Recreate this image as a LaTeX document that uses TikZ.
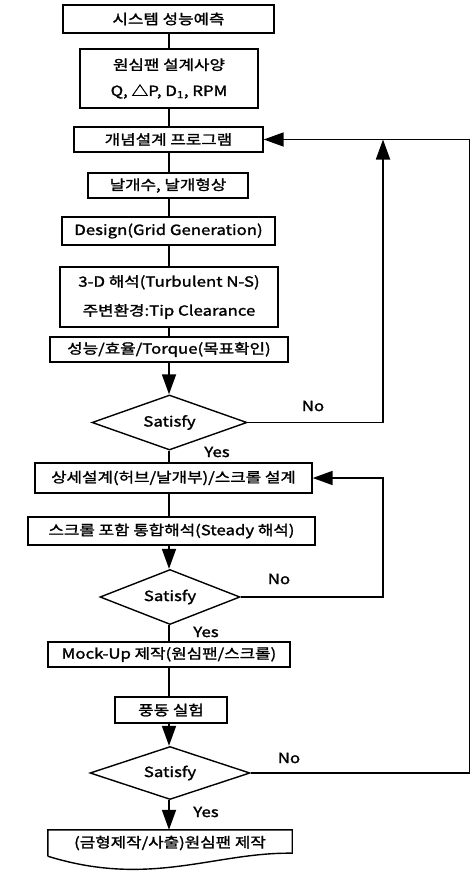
\documentclass[tikz,border=0pt]{standalone}
\usepackage{fontspec}
\setmainfont{Noto Sans CJK KR}[FakeStretch=1.2,FakeBold=1.6]
\usetikzlibrary{shapes.geometric,arrows.meta}
\tikzset{
  mybox/.style={draw,line width=1.4pt,inner sep=0pt,minimum height=25pt,align=center},
  mydiamond/.style={draw,diamond,line width=1.4pt,inner sep=0pt,aspect=2.8},
  myline/.style={line width=1.8pt},
  myarrow/.style={line width=1.8pt,-{Triangle[length=20pt,width=14pt]}},
}
\newcommand*\mylabel[3]{\node (#1) at (#2) {#3};}

\begin{document}
\begin{tikzpicture}[x=1pt,y=-1pt,font=\fontsize{14pt}{17pt}\selectfont]
\useasboundingbox (0,0) rectangle (471,873);

\coordinate (ax) at (169,0);

\node[mybox,minimum width=211pt,minimum height=28pt] (n1) at (168.5,19) {시스템 성능예측};
\node[mybox,minimum width=178pt,minimum height=59pt] (n2) at (169,78.5) {원심팬 설계사양\\[9pt]Q, △P, D\textsubscript{1}, RPM};
\node[mybox,minimum width=189pt] (n3) at (168.5,139.5) {개념설계 프로그램};
\node[mybox,minimum width=160pt] (n4) at (168,185.5) {날개수, 날개형상};
\node[mybox,minimum width=213pt,minimum height=28pt] (n5) at (168.5,231) {Design(Grid Generation)};
\node[mybox,minimum width=218pt,minimum height=60pt] (n6) at (169,297) {3-D 해석(Turbulent N-S)\\[12pt]주변환경:Tip Clearance};
\node[mybox,minimum width=238pt] (n7) at (169,349.5) {성능/효율/Torque(목표확인)};
\node[mydiamond,minimum width=155pt,minimum height=55pt] (d1) at (169.5,422.5) {Satisfy};
\node[mybox,minimum width=277pt,minimum height=30pt] (n8) at (173.5,478) {상세설계(허브/날개부)/스크롤 설계};
\node[mybox,minimum width=287pt,minimum height=28pt] (n9) at (171.5,531) {스크롤 포함 통합해석(Steady 해석)};
\node[mydiamond,minimum width=140pt,minimum height=55pt] (d2) at (170,597) {Satisfy};
\node[mybox,minimum width=242pt] (n10) at (169,654.5) {Mock-Up 제작(원심팬/스크롤)};
\node[mybox,minimum width=112pt,minimum height=26pt] (n11) at (171,710) {풍동 실험};
\node[mydiamond,minimum width=160pt,minimum height=53pt] (d3) at (170,773) {Satisfy};
\node[inner sep=0pt,minimum width=244pt,minimum height=26pt] (n12) at (170,843) {(금형제작/사출)원심팬 제작};

% document shape
\draw[line width=1.4pt] (n12.south west) -- (n12.north west) -- (n12.north east) -- ([yshift=3pt]n12.south east)
  .. controls (215,852) and (150,888) .. (n12.south west);

\foreach \a/\b in {n1/n2,n2/n3,n3/n4,n4/n5,n5/n6,n6/n7,d1/n8,n8/n9,d2/n10,n10/n11}
  \draw[myline] (\a.south -| ax) -- (\b.north -| ax);
\foreach \a/\b in {n7/d1,n9/d2,n11/d3,d3/n12}
  \draw[myarrow] (\a.south -| ax) -- (\b.north -| ax);

% feedback
\coordinate (fb1) at (383,139.5);
\coordinate (fb2) at (383,478);
\coordinate (fb3) at (469.5,139.5);
\draw[myarrow] (d1.east) -| (fb1);
\draw[myarrow] (d2.east) -| (fb2) -- (n8.east);
\draw[myarrow] (d3.east) -| (fb3) -- (n3.east);

\mylabel{no1}{313,406}{No}
\mylabel{no2}{279,579}{No}
\mylabel{no3}{289,758}{No}
\mylabel{yes1}{217,452}{Yes}
\mylabel{yes2}{206,632}{Yes}
\mylabel{yes3}{206,812}{Yes}

\end{tikzpicture}
\end{document}
